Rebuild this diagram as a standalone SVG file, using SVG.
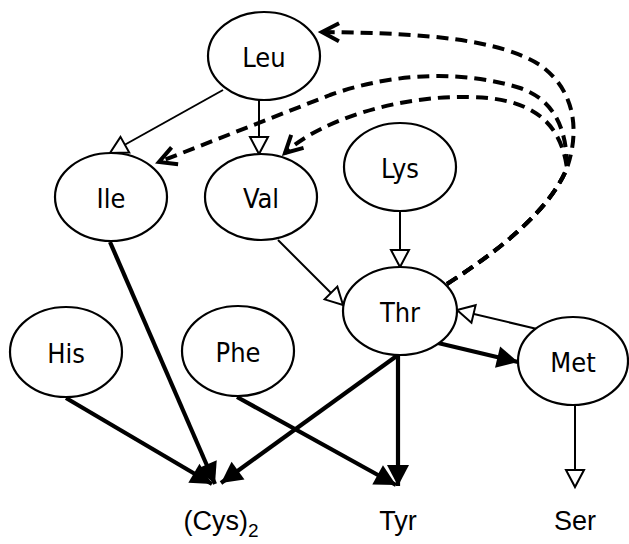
<svg xmlns="http://www.w3.org/2000/svg" width="629" height="544" viewBox="0 0 629 544">
<style>
.node ellipse{fill:#fff;stroke:#000;stroke-width:2.2}
.node text,.lbl{font-family:"DejaVu Sans Condensed","DejaVu Sans",sans-serif;font-size:27px;text-anchor:middle;fill:#000}
.lbl{font-family:"Liberation Sans",Arial,sans-serif;font-size:27px}
.thin{stroke:#000;stroke-width:2;fill:none;marker-end:url(#hollow)}
.thick{stroke:#000;stroke-width:4.2;fill:none;marker-end:url(#filled)}
.dash{stroke:#000;stroke-width:4;fill:none;stroke-dasharray:12 7;marker-end:url(#vee)}
</style>
<defs>
<marker id="hollow" markerUnits="userSpaceOnUse" markerWidth="30" markerHeight="30" refX="17" refY="9" orient="auto" overflow="visible">
<path d="M0,0 L17,9 L0,18 Z" fill="#fff" stroke="#000" stroke-width="2"/>
</marker>
<marker id="filled" markerUnits="userSpaceOnUse" markerWidth="30" markerHeight="30" refX="21" refY="11" orient="auto" overflow="visible">
<path d="M0,0 L21,11 L0,22 Z" fill="#000"/>
</marker>
<marker id="vee" markerUnits="userSpaceOnUse" markerWidth="30" markerHeight="30" refX="17" refY="9" orient="auto" overflow="visible">
<path d="M0,0 L17,9 L0,18" fill="none" stroke="#000" stroke-width="4"/>
</marker>
</defs>
<g id="connectors">
<line class="thin" x1="223" y1="90" x2="110" y2="153"/>
<line class="thin" x1="259" y1="100" x2="259" y2="154"/>
<line class="thin" x1="400" y1="211" x2="400" y2="267"/>
<line class="thin" x1="278" y1="240" x2="343" y2="305"/>
<line class="thin" x1="537" y1="329" x2="457" y2="310"/>
<line class="thin" x1="575" y1="406" x2="575" y2="487"/>
<line class="thick" x1="110" y1="242" x2="215" y2="484"/>
<line class="thick" x1="66" y1="398" x2="212" y2="484"/>
<line class="thick" x1="398" y1="355" x2="221" y2="483"/>
<line class="thick" x1="398" y1="355" x2="398" y2="486"/>
<line class="thick" x1="237" y1="397" x2="396" y2="485"/>
<line class="thick" x1="438" y1="343" x2="518" y2="362"/>
<path class="dash" d="M447,284 C500,250 550,210 567,168 C580,130 575,90 540,65 C500,40 430,33 322,32"/>
<path class="dash" d="M447,284 C500,250 550,210 567,168 C567,130 555,100 520,88 C470,72 400,70 330,95 L159,162"/>
<path class="dash" d="M447,284 C500,250 550,210 567,168 C560,120 530,98 470,97 C400,95 320,120 285,153"/>
</g>
<g id="Leu" class="node"><ellipse cx="264" cy="56" rx="56" ry="44"/><text x="264" y="67">Leu</text></g>
<g id="Ile" class="node"><ellipse cx="111" cy="197" rx="56" ry="44"/><text x="111" y="208">Ile</text></g>
<g id="Val" class="node"><ellipse cx="261" cy="197" rx="56" ry="43"/><text x="261" y="208">Val</text></g>
<g id="Lys" class="node"><ellipse cx="400" cy="167" rx="56" ry="44"/><text x="400" y="178">Lys</text></g>
<g id="Thr" class="node"><ellipse cx="400" cy="311" rx="57" ry="44"/><text x="400" y="322">Thr</text></g>
<g id="His" class="node"><ellipse cx="66" cy="352" rx="56" ry="45"/><text x="66" y="363">His</text></g>
<g id="Phe" class="node"><ellipse cx="238" cy="351" rx="56" ry="45"/><text x="238" y="362">Phe</text></g>
<g id="Met" class="node"><ellipse cx="573" cy="361" rx="55" ry="44"/><text x="573" y="372">Met</text></g>
<g id="Cys2"><text class="lbl" x="221" y="530">(Cys)<tspan font-size="19" dy="7">2</tspan></text></g>
<g id="Tyr"><text class="lbl" x="398" y="530">Tyr</text></g>
<g id="Ser"><text class="lbl" x="575" y="530">Ser</text></g>
</svg>
